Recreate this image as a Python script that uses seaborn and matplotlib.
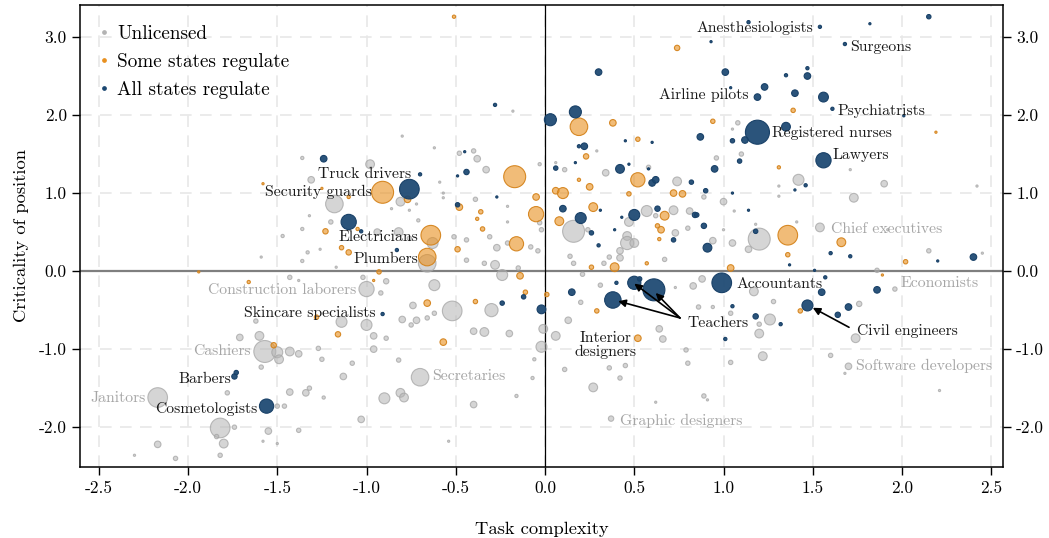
import pandas as pd
import matplotlib
matplotlib.use('Agg')
import matplotlib.pyplot as plt
import seaborn as sns
from matplotlib.ticker import MultipleLocator, FormatStrFormatter
from matplotlib.lines import Line2D

#DATA
#Unlicensed occupations: task complexity, criticality, employment (thousands)
unl_x = [-1.36, -0.98, -1.31, -1.18, -1.20, -0.94, -1.32, -1.36, -1.47, -0.81,
         -0.76, -0.72, -0.86, -0.80, -0.62, -0.48, -0.40, -0.38, -0.18, -0.59,
         -0.33, -0.03, -0.57, -0.57, -0.39, -0.21, -0.21, -0.03, -0.02, -0.82,
         -0.71, -0.76, -0.63, -0.66, -0.51, -0.44, -0.31, -0.27, -0.21, -0.08,
         -0.04, -0.44, -0.34, -0.28, -0.24, -0.15, -1.33, -1.26, -1.36, -1.17,
         -1.59, -1.00, -1.02, -0.89, -0.92, -0.62, -1.43, -1.38, -1.14, -1.00,
         -1.62, -1.71, -1.60, -1.57, -1.50, -1.43, -1.49, -1.38, -1.59, -0.96,
         -0.89, -0.96, -1.27, -1.25, -1.13, -1.08, -1.32, -1.43, -1.34, -1.78,
         -2.17, -1.50, -1.46, -1.24, -0.90, -1.03, -1.82, -1.74, -1.84, -1.80,
         -1.82, -1.55, -1.38, -2.17, -2.30, -2.07, -1.58, -1.50, -0.74, -0.52,
         -0.30, -0.80, -0.72, -0.66, -0.62, -0.75, -0.40, -0.34, -0.20, -0.01,
         -0.02, -0.70, -0.81, -0.79, -0.40, -0.06, -0.07, -0.16, -0.54, -0.82,
         0.16, 0.24, 0.11, 0.06, 0.29, 0.34, 0.58, 0.74, 0.57, 0.72,
         0.81, 0.62, 0.47, 0.46, 0.46, 0.50, 0.42, 0.42, 0.36, 0.73,
         0.80, 0.94, 1.05, 1.14, 1.20, 0.16, 0.14, 0.33, 0.67, 0.21,
         0.31, 0.83, 0.88, 0.73, 0.96, 1.10, 1.08, 1.05, 1.71, 1.42,
         1.31, 1.90, 2.42, 0.89, 1.31, 1.00, 1.73, 1.06, 1.00, 1.18,
         1.41, 1.54, 1.92, 2.15, 2.45, 1.86, 1.96, 1.26, 1.20, 1.20,
         1.28, 1.17, 1.76, 1.74, 1.60, 1.22, 1.04, 1.70, 1.68, 2.21,
         0.89, 0.91, 0.06, 0.20, 0.13, 0.11, 0.27, 0.64, 0.66, 0.36,
         0.42, 0.45, 0.79, 0.80, 0.37, 0.62, 0.86, 0.94, 1.04]
unl_y = [1.45, 1.37, 1.17, 0.86, 0.63, 0.50, 0.71, 0.54, 0.45, 0.89,
         0.78, 0.86, 0.80, 1.73, 1.58, 1.51, 1.54, 1.44, 2.05, 1.14,
         1.30, 1.37, 1.00, 0.94, 0.92, 0.63, 0.83, 0.62, 0.53, 0.50,
         0.65, 0.42, 0.36, 0.10, 0.44, 0.40, 0.44, 0.30, 0.36, 0.31,
         0.26, 0.14, 0.10, 0.08, -0.05, 0.04, 0.24, 0.28, 0.13, 0.05,
         0.18, -0.23, -0.08, -0.13, -0.28, -0.18, -0.08, -0.12, -0.65, -0.69,
         -0.64, -0.85, -0.83, -1.03, -1.04, -1.03, -1.13, -1.06, -1.23, -0.83,
         -0.86, -1.00, -0.99, -1.13, -1.35, -1.18, -1.50, -1.55, -1.56, -1.56,
         -1.62, -1.73, -1.73, -1.62, -1.63, -1.90, -2.01, -2.00, -2.12, -2.21,
         -2.36, -2.05, -2.04, -2.22, -2.36, -2.40, -2.18, -2.21, -0.44, -0.51,
         -0.50, -0.62, -0.63, -0.60, -0.54, -0.69, -0.77, -0.78, -0.80, -0.74,
         -0.97, -1.36, -1.56, -1.62, -1.71, -1.13, -1.37, -1.60, -2.18, -1.14,
         0.51, 0.53, 1.30, 1.39, 1.54, 1.26, 1.33, 1.15, 0.77, 0.78,
         0.77, 0.71, 0.63, 0.45, 0.36, 0.36, 0.26, 0.17, 0.18, 0.49,
         0.55, 0.39, 0.36, 0.28, 0.41, 0.10, 0.19, 0.10, 0.15, -0.04,
         -0.18, -0.19, -0.10, -0.21, 1.45, 1.50, 1.90, 1.82, 1.30, 1.17,
         1.09, 1.12, 1.09, 0.95, 0.96, 0.89, 0.94, 0.77, 0.53, 0.60,
         0.63, 0.56, 0.53, 0.26, 0.23, 0.01, -0.23, -0.62, -0.80, -0.68,
         -0.39, -0.26, -0.42, -0.86, -1.08, -1.09, -1.17, -1.22, -1.31, -1.53,
         -1.60, -1.65, -0.83, -0.40, -0.63, -1.26, -1.49, -0.74, -0.87, -1.24,
         -1.37, -1.21, -1.01, -1.18, -1.89, -1.68, -0.46, -0.46, -0.54]
unl_emp = [55, 400, 225, 1600, 100, 225, 25, 55, 55, 400,
           25, 25, 25, 25, 25, 100, 100, 225, 25, 25,
           225, 55, 25, 25, 100, 25, 25, 100, 100, 400,
           55, 100, 625, 1600, 100, 100, 100, 225, 100, 100,
           100, 100, 100, 400, 625, 100, 55, 25, 55, 25,
           25, 1200, 100, 150, 100, 625, 100, 25, 625, 625,
           100, 225, 400, 2500, 625, 400, 400, 225, 100, 225,
           100, 225, 100, 100, 225, 100, 100, 225, 225, 100,
           2000, 100, 100, 55, 625, 225, 2000, 100, 100, 400,
           100, 225, 100, 225, 25, 100, 25, 25, 225, 2000,
           900, 225, 225, 100, 100, 100, 225, 400, 225, 400,
           625, 1600, 400, 400, 225, 55, 55, 55, 25, 100,
           2500, 100, 100, 25, 25, 225, 100, 400, 625, 400,
           225, 100, 400, 400, 900, 400, 225, 225, 100, 225,
           100, 225, 225, 225, 2500, 100, 100, 100, 100, 100,
           100, 225, 225, 25, 100, 100, 100, 25, 25, 625,
           25, 225, 25, 100, 25, 225, 400, 25, 25, 25,
           25, 400, 25, 100, 25, 100, 100, 625, 400, 100,
           100, 400, 150, 400, 100, 400, 100, 225, 25, 25,
           100, 25, 400, 100, 225, 100, 400, 225, 225, 100,
           100, 100, 100, 100, 150, 25, 100, 55, 100]

#Some states regulate
some_x = [-0.51, 0.74, 0.19, 0.38, 0.52, 0.23, -0.91, -1.58, -1.25, -0.77,
          -1.10, -1.23, -1.05, -0.17, -0.05, -0.05, -0.48, -0.36, -0.38, -0.35,
          -0.64, -0.66, -0.49, -0.16, -0.14, -0.11, 0.01, -0.93, -0.96, -1.94,
          -1.66, -1.14, -1.10, -1.28, -1.16, -1.52, -0.66, -0.39, -0.57, 0.06,
          0.10, 0.19, 0.25, 0.52, 0.47, 0.72, 0.77, 0.27, 0.08, 0.67,
          0.63, 0.65, 0.64, 0.39, 0.26, 0.57, 1.04, 0.29, 0.52, 1.36,
          1.66, 1.36, 2.02, 1.89, 1.43, 1.39, 0.94, 2.19, 1.31]
some_y = [3.26, 2.86, 1.85, 1.90, 1.69, 1.47, 1.01, 1.12, 1.06, 0.92,
          0.95, 0.51, 0.54, 1.21, 0.95, 0.73, 0.82, 0.76, 0.67, 0.54,
          0.46, 0.18, 0.28, 0.35, -0.06, -0.27, -0.30, -0.01, -0.12, -0.01,
          -0.14, 0.30, 0.24, -0.59, -0.81, -0.95, -0.41, -0.39, -0.91, 1.03,
          1.00, 1.17, 1.08, 1.17, 0.99, 1.00, 0.99, 0.82, 0.64, 0.71,
          0.58, 0.53, 0.41, 0.05, 0.05, 0.10, 0.04, -0.51, -0.86, 0.46,
          0.37, 0.21, 0.12, -0.05, -0.51, 2.06, 1.92, 1.78, 1.33]
some_emp = [55, 150, 1600, 225, 100, 150, 2500, 25, 25, 225,
            55, 150, 55, 2500, 225, 1200, 225, 100, 55, 100,
            2000, 1600, 150, 1050, 225, 100, 100, 100, 25, 25,
            55, 100, 150, 100, 150, 150, 225, 100, 225, 225,
            625, 55, 225, 1050, 100, 225, 225, 400, 400, 400,
            100, 225, 55, 400, 100, 55, 225, 100, 225, 2000,
            400, 100, 100, 25, 100, 100, 100, 25, 55]

#All states regulate
all_x = [-1.24, -0.76, -1.10, -1.03, -0.91, -1.74, -1.73, -1.56, -0.28, -0.45,
         -0.49, -0.44, -0.70, -0.49, -0.27, -0.83, -0.24, -0.12, -0.02, 0.03,
         0.17, 0.30, 0.19, 0.22, 0.17, 0.06, 0.45, 0.60, 0.47, 0.42,
         0.58, 0.60, 0.62, 0.82, 0.10, 0.20, 0.31, 0.26, 0.30, 0.39,
         0.43, 0.50, 0.63, 0.84, 0.89, 0.72, 0.91, 0.15, 0.38, 0.50,
         0.61, 0.40, 0.53, 0.99, 1.05, 1.01, 1.18, 1.32, 1.47, 1.57,
         1.55, 1.86, 1.70, 1.64, 1.60, 1.71, 2.20, 2.40, 1.37, 1.51,
         1.14, 1.54, 1.82, 2.15, 0.93, 1.68, 1.01, 1.35, 1.47, 1.47,
         1.04, 1.23, 1.19, 1.40, 1.56, 1.61, 2.01, 1.19, 1.35, 0.87,
         1.05, 1.12, 1.56, 1.09, 0.95, 1.46, 0.90, 1.05, 1.40, 0.85,
         1.14, 1.18]
all_y = [1.44, 1.05, 0.63, 0.51, -0.55, -1.35, -1.30, -1.73, 2.13, 1.53,
         1.22, 1.27, 1.24, 0.85, 0.95, 0.27, -0.41, -0.33, -0.49, 1.94,
         2.04, 2.55, 1.60, 1.60, 1.39, 1.32, 1.67, 1.65, 1.37, 1.31,
         1.31, 1.13, 1.17, 1.14, 0.80, 0.68, 0.78, 0.49, 0.33, 0.53,
         0.69, 0.72, 0.80, 0.72, 0.58, 0.40, 0.30, -0.27, -0.37, -0.15,
         -0.24, -0.15, -0.10, -0.15, -0.45, -0.87, -0.58, -0.68, -0.44, -0.08,
         -0.27, -0.24, -0.46, -0.56, 0.23, 0.19, 0.13, 0.18, 0.08, 0.01,
         3.19, 3.13, 3.17, 3.26, 2.94, 2.91, 2.55, 2.51, 2.50, 2.60,
         2.35, 2.36, 2.23, 2.28, 2.23, 2.08, 1.99, 1.78, 1.85, 1.72,
         1.67, 1.68, 1.42, 1.41, 1.31, 1.10, 1.03, 1.00, 1.04, 0.72,
         0.78, 0.51]
all_emp = [225, 2000, 1200, 55, 55, 150, 100, 1050, 55, 25,
           25, 150, 55, 100, 25, 55, 100, 100, 400, 750,
           750, 225, 55, 225, 25, 100, 25, 25, 25, 400,
           25, 225, 225, 100, 225, 625, 25, 100, 55, 25,
           25, 625, 150, 150, 150, 100, 400, 225, 1400, 900,
           2500, 55, 100, 2000, 55, 55, 150, 55, 625, 55,
           225, 225, 225, 150, 55, 55, 25, 225, 25, 25,
           55, 55, 25, 100, 25, 55, 225, 55, 225, 55,
           25, 225, 225, 225, 500, 55, 25, 3000, 400, 225,
           100, 225, 1200, 100, 225, 55, 100, 25, 25, 100,
           25, 100]

groups = ['Unlicensed', 'Some states regulate', 'All states regulate']
group_colors = ['#b3b3b3', '#e8901f', '#1b4771']

#Labelled occupations (label position, black or grey text, alignment)
lab_text = ['Anesthesiologists', 'Surgeons', 'Airline pilots', 'Psychiatrists',
            'Registered nurses', 'Lawyers', 'Truck drivers', 'Security guards',
            'Electricians', 'Plumbers', 'Chief executives', 'Construction laborers',
            'Economists', 'Accountants', 'Skincare specialists', 'Teachers',
            'Civil engineers', 'Interior\ndesigners', 'Cashiers', 'Software developers',
            'Secretaries', 'Barbers', 'Janitors', 'Cosmetologists', 'Graphic designers']
lab_x = [1.50, 1.71, 1.14, 1.64, 1.27, 1.61, -0.75, -0.97, -0.71, -0.71, 1.60, -1.06,
         1.99, 1.07, -0.95, 0.80, 1.75, 0.34, -1.65, 1.74, -0.63, -1.76, -2.24, -1.61, 0.42]
lab_y = [3.12, 2.87, 2.26, 2.05, 1.77, 1.49, 1.24, 1.01, 0.44, 0.15, 0.54, -0.24,
         -0.15, -0.17, -0.54, -0.67, -0.77, -0.95, -1.03, -1.22, -1.35, -1.38, -1.63, -1.77, -1.92]
lab_grey = [0, 0, 0, 0, 0, 0, 0, 0, 0, 0, 1, 1,
            1, 0, 0, 0, 0, 0, 1, 1, 1, 0, 1, 0, 1]
lab_ha = ['right', 'left', 'right', 'left', 'left', 'left', 'right', 'right', 'right', 'right', 'left', 'right',
          'left', 'left', 'right', 'left', 'left', 'center', 'right', 'left', 'left', 'right', 'right', 'right', 'left']

#Arrows: from label to occupation
arrow_from = [(0.756, -0.60), (0.756, -0.60), (0.756, -0.60), (1.703, -0.72)]
arrow_to = [(0.41, -0.385), (0.50, -0.16), (0.62, -0.28), (1.50, -0.47)]

#Build dataframe
df = pd.concat([
    pd.DataFrame({'complexity': unl_x, 'criticality': unl_y, 'emp': unl_emp, 'license': groups[0]}),
    pd.DataFrame({'complexity': some_x, 'criticality': some_y, 'emp': some_emp, 'license': groups[1]}),
    pd.DataFrame({'complexity': all_x, 'criticality': all_y, 'emp': all_emp, 'license': groups[2]}),
], ignore_index=True)

#PLOT
plt.rcParams['font.family'] = ['cmr10', 'DejaVu Serif']
plt.rcParams['axes.unicode_minus'] = False
plt.rcParams['mathtext.fontset'] = 'cm'

fig, ax = plt.subplots(figsize=(10.49, 5.38), dpi=100)
fig.subplots_adjust(left=0.0763, right=0.9562, top=0.9907, bottom=0.132)

ax.axhline(0, color='#7f7f7f', lw=1.6, zorder=2)
ax.axvline(0, color='black', lw=0.9, zorder=2)

palette = dict(zip(groups, group_colors))
sns.scatterplot(data=df, x='complexity', y='criticality', hue='license', hue_order=groups,
                palette=palette, size='emp', sizes=(0, 300), size_norm=(0, 3000),
                linewidth=0.8, legend=False, ax=ax, zorder=3)

#Transparent fill, stronger ring
coll = ax.collections[-1]
base = coll.get_facecolors().copy()
face_alpha = df['license'].map({groups[0]: 0.55, groups[1]: 0.6, groups[2]: 0.93}).values
edge_alpha = df['license'].map({groups[0]: 0.75, groups[1]: 0.95, groups[2]: 1.0}).values
fc = base.copy()
fc[:, 3] = face_alpha
ec = base.copy()
ec[:, :3] = ec[:, :3] * 0.92
ec[:, 3] = edge_alpha
coll.set_facecolors(fc)
coll.set_edgecolors(ec)

#Labels
for t, x, y, g, ha in zip(lab_text, lab_x, lab_y, lab_grey, lab_ha):
    ax.text(x, y, t, ha=ha, va='center', fontsize=11.3, color='#a6a6a6' if g else '#1a1a1a',
            linespacing=1.0, multialignment='center', zorder=4)

for a, b in zip(arrow_from, arrow_to):
    ax.annotate('', xy=b, xytext=a, zorder=5,
                arrowprops=dict(arrowstyle='-|>', color='black', lw=1.2, mutation_scale=11,
                                shrinkA=0, shrinkB=0))

#Axes
ax.set_xlim(-2.605, 2.566)
ax.set_ylim(-2.51, 3.41)
ax.xaxis.set_major_locator(MultipleLocator(0.5))
ax.yaxis.set_major_locator(MultipleLocator(1.0))
ax.xaxis.set_major_formatter(FormatStrFormatter('%.1f'))
ax.yaxis.set_major_formatter(FormatStrFormatter('%.1f'))
ax.tick_params(direction='out', length=6, width=1, labelsize=12.5, right=True, labelright=True)
ax.grid(True, color='#e8e8e8', lw=1.2, linestyle=(0, (7, 5)))
ax.set_axisbelow(True)
for s in ax.spines.values():
    s.set_linewidth(1.1)
ax.set_xlabel('Task complexity', fontsize=13.3, labelpad=19)
ax.set_ylabel('Criticality of position', fontsize=13.3, labelpad=7)

handles = [Line2D([], [], marker='o', ls='', markersize=2.4, color=c, label=g)
           for g, c in zip(groups, group_colors)]
ax.legend(handles=handles, loc='upper left', frameon=False, fontsize=13.8,
          handlelength=0.4, handletextpad=0.5, labelspacing=0.52,
          borderaxespad=0.6, borderpad=0.45)

plt.savefig('out.png', dpi=100)
